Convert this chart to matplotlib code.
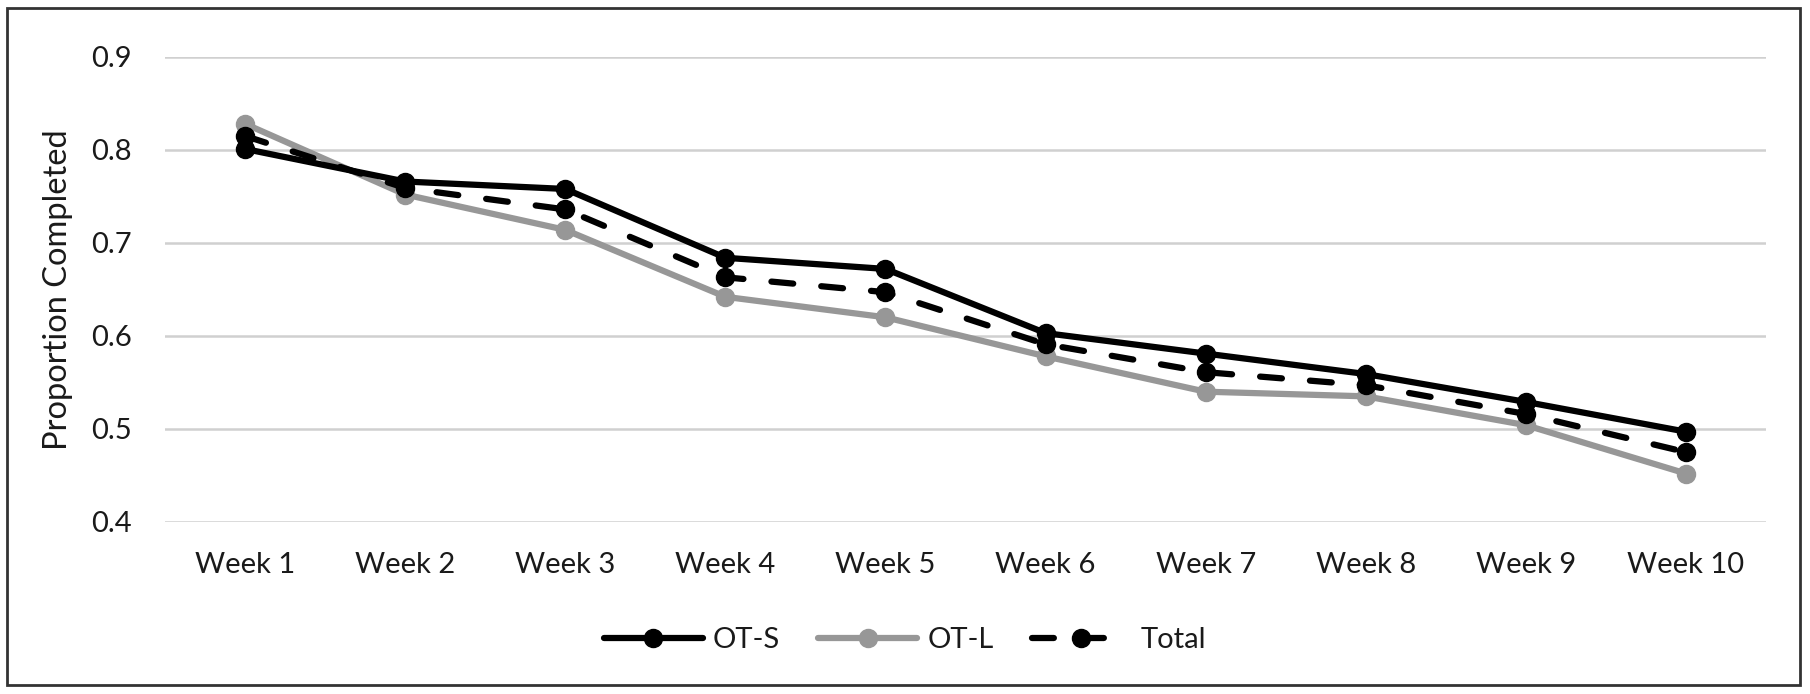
import matplotlib
matplotlib.use('Agg')
import matplotlib.pyplot as plt
from matplotlib.patches import Rectangle

# Data
weeks = ['Week 1', 'Week 2', 'Week 3', 'Week 4', 'Week 5',
         'Week 6', 'Week 7', 'Week 8', 'Week 9', 'Week 10']
ot_s = [0.801, 0.766, 0.758, 0.684, 0.672, 0.603, 0.581, 0.559, 0.529, 0.497]
ot_l = [0.828, 0.752, 0.714, 0.642, 0.620, 0.578, 0.540, 0.535, 0.504, 0.452]
total = [0.815, 0.759, 0.736, 0.663, 0.647, 0.591, 0.561, 0.547, 0.516, 0.475]
y_ticks = [0.4, 0.5, 0.6, 0.7, 0.8, 0.9]

plt.rcParams['font.family'] = ['Lato', 'DejaVu Sans']
txt_col = '#1a1a1a'

fig = plt.figure(figsize=(18.1, 6.94), dpi=100)
ax = fig.add_axes([0.0912, 0.248, 0.8845, 0.670])

x = list(range(len(weeks)))
lw = 4.5
ms = 13
ax.plot(x, ot_s, color='black', lw=lw, marker='o', ms=ms, label='OT-S',
        solid_capstyle='round', zorder=3)
ax.plot(x, ot_l, color='#979797', lw=lw, marker='o', ms=ms, label='OT-L',
        solid_capstyle='round', zorder=2)
ax.plot(x, total, color='black', lw=lw, ls=(0, (3.5, 4.5)), marker='o', ms=ms,
        dash_capstyle='round', label='Total', zorder=4)

ax.set_xlim(-0.5, len(weeks) - 0.5)
ax.set_ylim(0.4, 0.9)
ax.set_yticks(y_ticks)
ax.set_yticklabels([f'{v:.1f}' for v in y_ticks])
ax.set_xticks(x)
ax.set_xticklabels(weeks)
ax.tick_params(axis='both', length=0, labelsize=21, colors=txt_col)
ax.tick_params(axis='x', pad=22)
ax.tick_params(axis='y', pad=24)
ax.grid(axis='y', color='#d0d0d0', lw=1.8)
ax.set_axisbelow(True)
for s in ax.spines.values():
    s.set_visible(False)

fig.text(0.032, 0.583, 'Proportion Completed', rotation=90, ha='center',
         va='center', fontsize=23.5, color=txt_col)

fig.legend(loc='center', bbox_to_anchor=(0.5, 0.078), ncol=3, frameon=False,
           fontsize=21, handlelength=3.4, columnspacing=1.3, handletextpad=0.35,
           labelcolor=txt_col)

fig.patches.append(Rectangle((0.0039, 0.013), 0.9906, 0.9755, transform=fig.transFigure,
                             fill=False, edgecolor='#333333', lw=2))

fig.savefig('out.png', dpi=100)
